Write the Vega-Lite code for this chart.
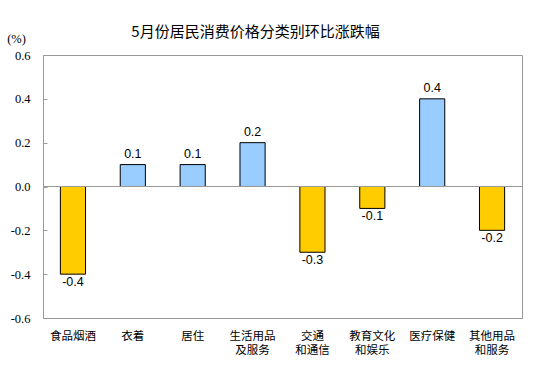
{
  "$schema": "https://vega.github.io/schema/vega-lite/v6.json",
  "width": 479,
  "height": 263,
  "autosize": {"type": "none"},
  "padding": {"left": 43, "top": 55, "right": 32, "bottom": 66},
  "background": "white",
  "title": {
    "text": "5月份居民消费价格分类别环比涨跌幅",
    "font": "Noto Sans CJK SC",
    "fontSize": 15,
    "fontWeight": "normal",
    "color": "#000000",
    "anchor": "middle",
    "dx": -27,
    "offset": -8
  },
  "config": {
    "view": {"stroke": "#999999", "strokeWidth": 1}
  },
  "data": {
    "values": [
      {"cat": "食品烟酒", "value": -0.4},
      {"cat": "衣着", "value": 0.1},
      {"cat": "居住", "value": 0.1},
      {"cat": "生活用品\n及服务", "value": 0.2},
      {"cat": "交通\n和通信", "value": -0.3},
      {"cat": "教育文化\n和娱乐", "value": -0.1},
      {"cat": "医疗保健", "value": 0.4},
      {"cat": "其他用品\n和服务", "value": -0.2}
    ]
  },
  "encoding": {
    "x": {
      "field": "cat",
      "type": "nominal",
      "sort": null,
      "scale": {"paddingInner": 0.58, "paddingOuter": 0.29},
      "axis": {
        "title": null,
        "labelAngle": 0,
        "domain": false,
        "ticks": false,
        "labelPadding": 12,
        "labelFont": "Noto Sans CJK SC",
        "labelFontSize": 11.5,
        "labelColor": "#000000",
        "labelLineHeight": 14,
        "labelExpr": "split(datum.label, '\\n')"
      }
    }
  },
  "layer": [
    {
      "mark": {"type": "bar", "stroke": "#000000", "strokeWidth": 1},
      "encoding": {
        "y": {
          "field": "value",
          "type": "quantitative",
          "scale": {"domain": [-0.6, 0.6], "nice": false},
          "axis": {
            "values": [-0.6, -0.4, -0.2, 0, 0.2, 0.4, 0.6],
            "labelExpr": "replace(format(datum.value, '.1f'), '−', '-')",
            "grid": false,
            "domainColor": "#999999",
            "tickColor": "#999999",
            "tickSize": -4,
            "labelPadding": 17,
            "labelFont": "Liberation Serif",
            "labelFontSize": 12.5,
            "labelColor": "#000000",
            "title": "(%)",
            "titleAngle": 0,
            "titleFont": "Liberation Serif",
            "titleFontSize": 12.5,
            "titleFontWeight": "normal",
            "titleColor": "#000000",
            "titleAlign": "center",
            "titleBaseline": "middle",
            "titleX": -27,
            "titleY": -17
          }
        },
        "color": {
          "condition": {"test": "datum.value >= 0", "value": "#99CCFF"},
          "value": "#FFCC00"
        }
      }
    },
    {
      "mark": {"type": "rule", "color": "#999999", "strokeWidth": 1},
      "data": {"values": [{"z": 0}]},
      "encoding": {
        "y": {"field": "z", "type": "quantitative"},
        "x": null
      }
    },
    {
      "transform": [{"filter": "datum.value >= 0"}],
      "mark": {"type": "text", "baseline": "bottom", "dy": -4, "font": "Liberation Sans", "fontSize": 12.5, "color": "#000000"},
      "encoding": {
        "y": {"field": "value", "type": "quantitative"},
        "text": {"field": "value", "type": "nominal"}
      }
    },
    {
      "transform": [{"filter": "datum.value < 0"}],
      "mark": {"type": "text", "baseline": "top", "dy": 2, "font": "Liberation Sans", "fontSize": 12.5, "color": "#000000"},
      "encoding": {
        "y": {"field": "value", "type": "quantitative"},
        "text": {"field": "value", "type": "nominal"}
      }
    }
  ]
}
